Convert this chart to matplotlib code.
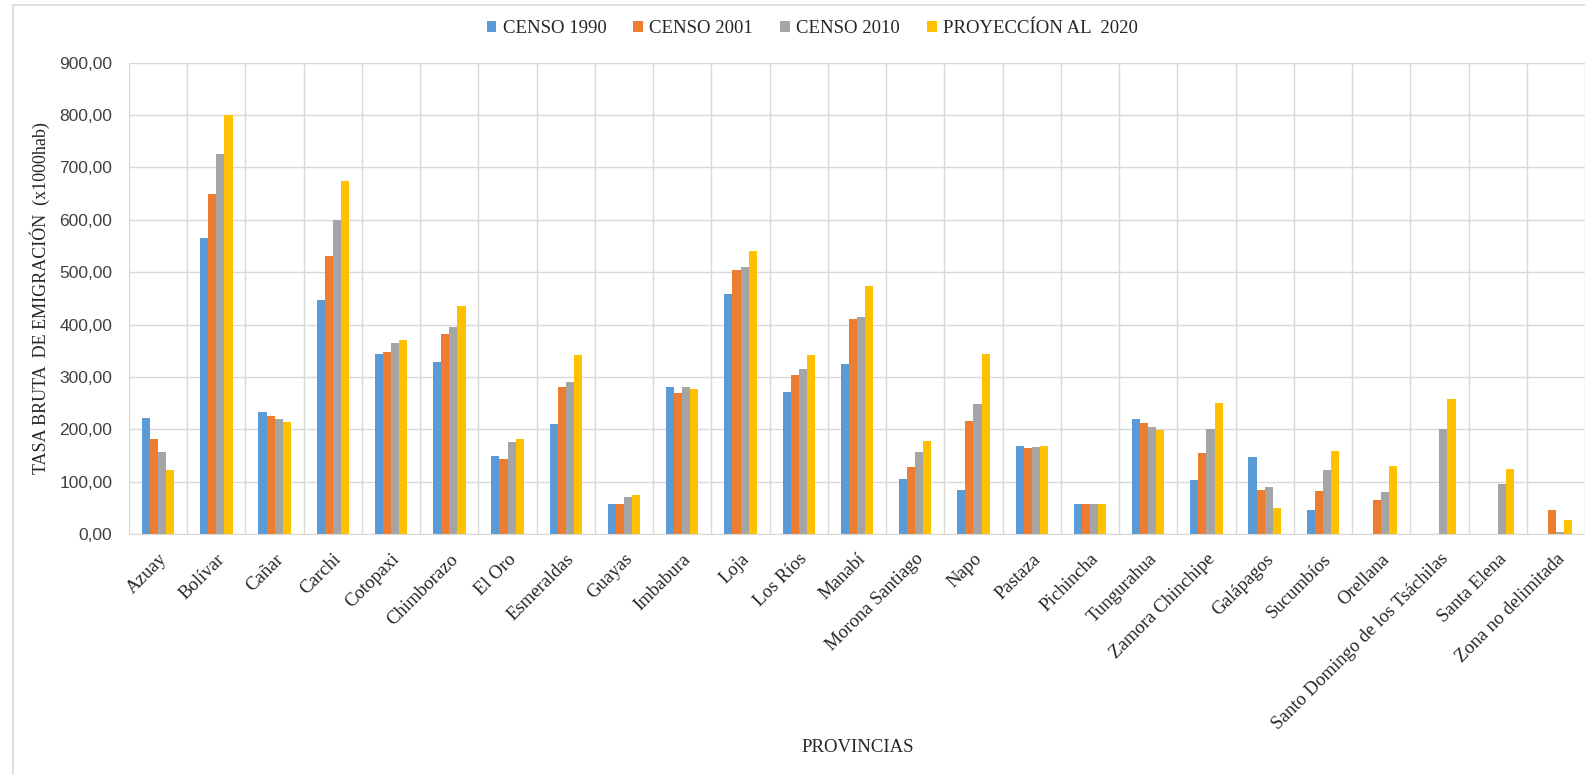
import numpy as np
import matplotlib
matplotlib.use("Agg")
from matplotlib import pyplot as plt
from matplotlib.patches import Rectangle

nan = np.nan

provincias = ["Azuay", "Bolívar", "Cañar", "Carchi", "Cotopaxi", "Chimborazo",
              "El Oro", "Esmeraldas", "Guayas", "Imbabura", "Loja", "Los Ríos",
              "Manabí", "Morona Santiago", "Napo", "Pastaza", "Pichincha",
              "Tungurahua", "Zamora Chinchipe", "Galápagos", "Sucumbíos",
              "Orellana", "Santo Domingo de los Tsáchilas", "Santa Elena",
              "Zona no delimitada"]

censo_1990 = [221, 565, 233, 447, 344, 329, 148, 210, 57, 281, 458, 271, 324,
              105, 84, 168, 57, 219, 103, 147, 45, nan, nan, nan, nan]
censo_2001 = [181, 650, 226, 530, 348, 382, 143, 280, 57, 270, 505, 304, 411,
              127, 215, 165, 57, 212, 154, 84, 82, 64, nan, nan, 46]
censo_2010 = [156, 725, 219, 599, 364, 396, 176, 290, 71, 281, 509, 315, 415,
              156, 248, 167, 57, 205, 201, 89, 122, 80, 201, 96, 4]
proy_2020 = [123, 800, 213, 675, 371, 436, 181, 342, 74, 276, 541, 342, 474,
             178, 344, 168, 57, 199, 250, 49, 159, 129, 257, 125, 26]

series = [("CENSO 1990", censo_1990, "#5B9BD5"),
          ("CENSO 2001", censo_2001, "#ED7D31"),
          ("CENSO 2010", censo_2010, "#A5A5A5"),
          ("PROYECCÍON AL  2020", proy_2020, "#FFC000")]

serif = "Liberation Serif"
sans = "Liberation Sans"

fig = plt.figure(figsize=(15.85, 7.75), dpi=100)
ax = fig.add_axes([0.0814, 0.311, 0.9186, 0.608])

# outer chart border like the excel frame
fig.patches.append(Rectangle((0.008, -0.01), 1.1, 1.003, transform=fig.transFigure,
                             fill=False, edgecolor="#D9D9D9", linewidth=1.2))

x = np.arange(len(provincias))
w = 0.139
for i, (name, vals, col) in enumerate(series):
    ax.bar(x + (i - 1.5) * w, vals, width=w, color=col, label=name)

ax.set_xlim(-0.5, len(provincias) - 0.5)
ax.set_ylim(0, 900)
ax.set_yticks(np.arange(0, 901, 100))
ax.set_yticklabels([f"{v:.2f}".replace(".", ",") for v in np.arange(0, 901, 100)],
                   fontsize=12.5, family=sans, color="#404040")
ax.set_xticks(x)
ax.set_xticklabels(provincias, rotation=45, ha="right", rotation_mode="anchor",
                   fontsize=13.5, family=serif, color="#262626")
ax.set_xticks(np.arange(-0.5, len(provincias), 1), minor=True)
ax.tick_params(axis="both", length=0, which="both")
ax.tick_params(axis="x", pad=12)
ax.tick_params(axis="y", pad=12)

ax.grid(axis="y", color="#D9D9D9", linewidth=1)
ax.grid(axis="x", which="minor", color="#D9D9D9", linewidth=1)
ax.set_axisbelow(True)
for s in ["top", "right", "left"]:
    ax.spines[s].set_visible(False)
ax.spines["bottom"].set_color("#D9D9D9")

ax.set_ylabel("TASA BRUTA  DE EMIGRACIÓN  (x1000hab)", family=serif, fontsize=13,
              color="#262626", labelpad=7)
fig.text(0.541, 0.035, "PROVINCIAS", family=serif, fontsize=13.5, color="#262626",
         ha="center", va="center")

leg = fig.legend(loc="center", bbox_to_anchor=(0.5125, 0.963), ncol=4, frameon=False,
                 prop={"family": serif, "size": 13.5}, handlelength=0.5,
                 handleheight=0.5, handletextpad=0.35, columnspacing=1.45)
for t in leg.get_texts():
    t.set_color("#262626")

fig.savefig("out.png", dpi=100)
